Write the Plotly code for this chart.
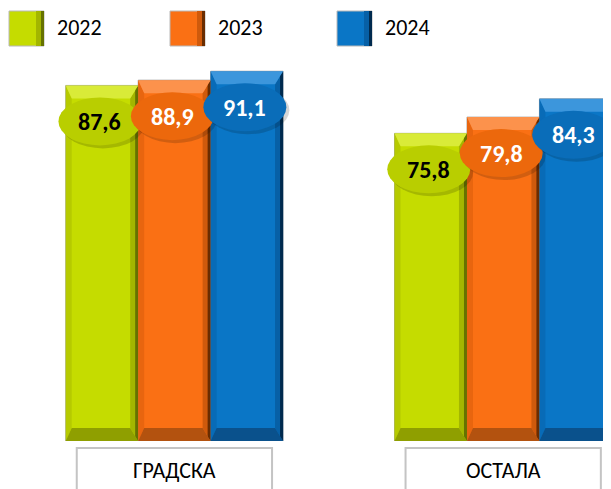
import plotly.graph_objects as go

# data
categories = ["ГРАДСКА", "ОСТАЛА"]
years = ["2022", "2023", "2024"]
values_2022 = [87.6, 75.8]
values_2023 = [88.9, 79.8]
values_2024 = [91.1, 84.3]

series = [values_2022, values_2023, values_2024]

# colours: main, top bevel, left bevel, bottom bevel, right bevel, edge, ellipse, label
styles = [
    dict(main="#c5dc00", top="#d9eb38", left="#b6ca00", bottom="#8f9f00",
         right="#a3b600", edge="#667200", ell="#b9ce00", txt="black"),
    dict(main="#fa7014", top="#fc924c", left="#e8650f", bottom="#b3520f",
         right="#cf5a0c", edge="#6a2c00", ell="#ec680c", txt="white"),
    dict(main="#0a76c6", top="#3c96dc", left="#086bb7", bottom="#0a518c",
         right="#0760a6", edge="#002a4e", ell="#0a6db9", txt="white"),
]

# the page body keeps an 8px margin, so the figure is 8px smaller each way
W, H = 603, 481
MB = 48
PX_X = 328.8                      # pixels per category unit
PX_Y = 4.059                      # pixels per value unit
YMAX = (H - MB) / PX_Y
BARGAP = 0.339
X0PX = 166.4                      # pixel of the first category centre
FONT = "Carlito, Lato, Liberation Sans, sans-serif"

fig = go.Figure()
n = len(series)
bw = (1 - BARGAP) / n

for i, vals in enumerate(series):
    st = styles[i]
    fig.add_trace(go.Bar(
        x=list(range(len(categories))), y=vals, name=years[i],
        marker=dict(color=st["main"], line=dict(color="rgba(140,140,140,0.7)", width=1)),
        showlegend=False, hoverinfo="skip",
    ))

shapes = []
annotations = []
bx = 12 / PX_X
by = 13 / PX_Y
rx = 8 / PX_X
ex = 3 / PX_X

def poly(pts, color):
    d = "M " + " L ".join(f"{x},{y}" for x, y in pts) + " Z"
    return dict(type="path", path=d, xref="x", yref="y", fillcolor=color,
                line=dict(width=0), layer="above")

# bevel effect on each bar
for i, vals in enumerate(series):
    st = styles[i]
    for c, v in enumerate(vals):
        xc = c + (i - (n - 1) / 2) * bw
        x0, x1 = xc - bw / 2, xc + bw / 2
        shapes.append(poly([(x0, v), (x0, 0), (x0 + bx * 0.5, by), (x0 + bx * 0.5, v - by)], st["left"]))
        shapes.append(poly([(x1, v), (x1, 0), (x1 - rx, by), (x1 - rx, v - by)], st["right"]))
        shapes.append(poly([(x1, v), (x1, 0), (x1 - ex, by * 0.3), (x1 - ex, v - by * 0.3)], st["edge"]))
        shapes.append(poly([(x0, 0), (x1, 0), (x1 - rx, by), (x0 + bx * 0.5, by)], st["bottom"]))
        shapes.append(poly([(x0, v), (x1, v), (x1 - rx, v - by), (x0 + bx * 0.5, v - by)], st["top"]))

# value ellipses
ew, eh = 41.5 / PX_X, 24 / PX_Y
for i, vals in enumerate(series):
    st = styles[i]
    for c, v in enumerate(vals):
        xc = c + (i - (n - 1) / 2) * bw - 2 / PX_X
        yc = v - 36 / PX_Y
        shapes.append(dict(type="circle", xref="x", yref="y",
                           x0=xc - ew + 3 / PX_X, x1=xc + ew + 3 / PX_X,
                           y0=yc - eh - 3 / PX_Y, y1=yc + eh - 3 / PX_Y,
                           fillcolor="rgba(0,0,0,0.16)", line=dict(width=0), layer="above"))
        shapes.append(dict(type="circle", xref="x", yref="y",
                           x0=xc - ew, x1=xc + ew, y0=yc - eh, y1=yc + eh,
                           fillcolor=st["ell"], line=dict(width=0), layer="above"))
        annotations.append(dict(x=xc, y=yc, xref="x", yref="y", showarrow=False,
                                text=f"<b>{v:.1f}</b>".replace(".", ","),
                                font=dict(family=FONT, size=24, color=st["txt"])))

# category boxes and labels
for c, name in enumerate(categories):
    shapes.append(dict(type="rect", xref="x", yref="paper",
                       x0=c - 0.297, x1=c + 0.297, y0=-0.016, y1=-0.2,
                       line=dict(color="#c4c4c4", width=2), fillcolor="white"))
    annotations.append(dict(x=c, y=0, xref="x", yref="paper", yshift=-29,
                            yanchor="middle", showarrow=False, text=name,
                            font=dict(family=FONT, size=22, color="black")))

# legend drawn by hand (large bevelled squares)
def py(p):
    return (H - MB - p) / (H - MB)

legend_x = [1, 162, 329]
for i, yr in enumerate(years):
    st = styles[i]
    lx = legend_x[i]
    shapes.append(dict(type="rect", xref="paper", yref="paper",
                       x0=lx / W, x1=(lx + 35) / W, y0=py(38), y1=py(3),
                       fillcolor=st["main"], line=dict(color="#b8b8b8", width=1)))
    shapes.append(dict(type="rect", xref="paper", yref="paper",
                       x0=(lx + 27) / W, x1=(lx + 35) / W, y0=py(38), y1=py(3),
                       fillcolor=st["right"], line=dict(width=0)))
    shapes.append(dict(type="rect", xref="paper", yref="paper",
                       x0=(lx + 32) / W, x1=(lx + 35) / W, y0=py(38), y1=py(3),
                       fillcolor=st["edge"], line=dict(width=0)))
    annotations.append(dict(x=(lx + 46) / W, y=py(19), xref="paper", yref="paper",
                            xanchor="left", yanchor="middle", showarrow=False, text=yr,
                            font=dict(family=FONT, size=22, color="black")))

fig.update_layout(
    width=W, height=H,
    margin=dict(l=0, r=0, t=0, b=MB),
    paper_bgcolor="white", plot_bgcolor="white",
    barmode="group", bargap=BARGAP, bargroupgap=0,
    xaxis=dict(range=[-X0PX / PX_X, (W - X0PX) / PX_X], visible=False),
    yaxis=dict(range=[0, YMAX], visible=False),
    shapes=shapes, annotations=annotations,
)

fig.write_html("out.html")
